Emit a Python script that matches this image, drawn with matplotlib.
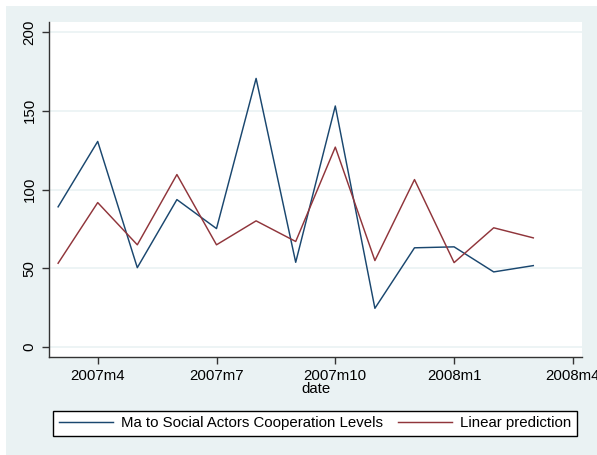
import numpy as np
import matplotlib
matplotlib.use('Agg')
import matplotlib.pyplot as plt
from matplotlib.patches import Rectangle

plt.rcParams['font.family'] = ['Liberation Sans', 'DejaVu Sans']

# monthly series, 2007m3 .. 2008m3 (Stata %tm style month numbers)
years = [2007] * 10 + [2008] * 3
months = [3, 4, 5, 6, 7, 8, 9, 10, 11, 12, 1, 2, 3]
coop = [89, 130.5, 50.4, 93.6, 75.2, 170.5, 53.8, 153, 24.6, 63, 63.6, 47.7, 51.7]
linpred = [53.2, 91.7, 64.9, 109.5, 64.9, 80.1, 67, 126.9, 54.9, 106.3, 53.6, 75.7, 69.3]

tick_years = [2007, 2007, 2007, 2008, 2008]
tick_months = [4, 7, 10, 1, 4]
yticks = [0, 50, 100, 150, 200]

def tm(y, m):
    return (y - 1960) * 12 + (m - 1)

t = [tm(y, m) for y, m in zip(years, months)]
xt = [tm(y, m) for y, m in zip(tick_years, tick_months)]
xtl = ['%dm%d' % (y, m) for y, m in zip(tick_years, tick_months)]

W, H = 597, 455
fig = plt.figure(figsize=(W / 100, H / 100), dpi=100, facecolor='white')
bg = '#eaf2f3'
fig.patches.append(Rectangle((6 / W, 0), 1 - 6 / W, 1 - 6 / H, transform=fig.transFigure,
                             facecolor=bg, edgecolor='none', zorder=-5))

ax = fig.add_axes([49 / W, (H - 357) / H, (582 - 49) / W, (357 - 22) / H])
ax.set_facecolor('white')

ax.plot(t, coop, color='#1a476f', lw=1.05, label='Ma to Social Actors Cooperation Levels')
ax.plot(t, linpred, color='#90353b', lw=1.05, label='Linear prediction')

ax.set_ylim(-6.3, 206.3)
ax.set_xlim(t[0] - 0.23, xt[-1] + 0.23)
ax.set_yticks(yticks)
ax.set_yticklabels([str(v) for v in yticks], rotation=90, va='center')
ax.set_xticks(xt)
ax.set_xticklabels(xtl)
ax.grid(axis='y', color=bg, lw=1.2)
ax.set_axisbelow(True)

for s in ['top', 'right']:
    ax.spines[s].set_visible(False)
for s in ['left', 'bottom']:
    ax.spines[s].set_color('#333333')
    ax.spines[s].set_linewidth(1.0)
ax.tick_params(direction='out', length=5, width=1, color='#333333', labelsize=10.8, pad=4)
ax.tick_params(axis='y', pad=4)
ax.set_xlabel('date', fontsize=10.8, labelpad=-1)

fig.legend(loc='center', ncol=2, fontsize=10.8,
           bbox_to_anchor=(315 / W, (H - 423.5) / H),
           frameon=True, fancybox=False, edgecolor='black', framealpha=1,
           handlelength=3.6, handletextpad=0.55, columnspacing=1.0,
           borderaxespad=0, borderpad=0.35)

fig.savefig('out.png', dpi=100)
